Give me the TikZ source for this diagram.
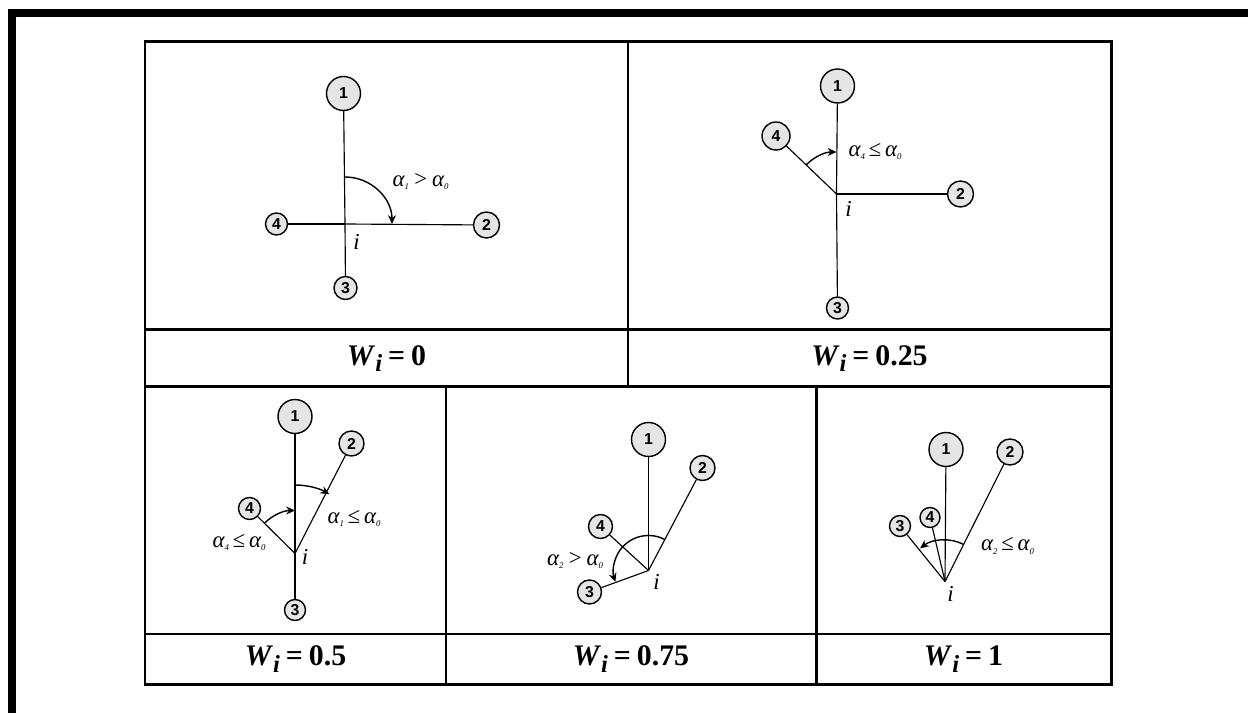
\documentclass[tikz,border=0pt]{standalone}
\usepackage{fontspec}
\setmainfont{Liberation Serif}
\newfontfamily\numfont{Liberation Sans}
\usetikzlibrary{arrows.meta,calc}
\usepackage{tkz-euclide}
\definecolor{NodeClr}{rgb}{0.9,0.9,0.9}

\tikzset{
  vtx/.style={circle,draw=black,line width=0.8pt,fill=NodeClr,inner sep=0pt,
    font=\numfont\bfseries\fontsize{9}{10}\selectfont},
  spoke/.style={line width=0.65pt},
  turn/.style={line width=0.8pt,-{Stealth[length=5pt,width=4.5pt]}},
  ang/.style={font=\itshape\fontsize{13}{14}\selectfont,inner sep=0pt},
  wlab/.style={font=\bfseries\fontsize{17}{19}\selectfont,inner sep=0pt},
  grid/.style={line width=1.7pt},
}
\newcommand{\Wlab}[1]{\textit{W}\raisebox{-0.5ex}{\textit{\fontsize{14}{14}\selectfont i}}\kern0.2em=\kern0.2em#1}
\newcommand{\alab}[3]{α\raisebox{-0.3ex}{\fontsize{5}{5}\selectfont #1}\,#2\,α\raisebox{-0.3ex}{\fontsize{5}{5}\selectfont #3}}

\begin{document}
\begin{tikzpicture}
\useasboundingbox (0,0) rectangle (24.96,14.26);

% outer frame
\draw[line width=0.16cm] (0.24,0) -- (0.24,14.0) -- (24.96,14.0);

% table
\draw[grid] (2.9,0.57) rectangle (22.22,13.43);
\draw[grid] (2.9,7.66) -- (22.22,7.66);
\draw[grid] (2.9,6.52) -- (22.22,6.52);
\draw[grid] (2.9,1.58) -- (22.22,1.58);
\draw[grid] (12.56,13.43) -- (12.56,6.52);
\draw[grid] (8.92,6.52) -- (8.92,0.57);
\draw[grid] (16.32,6.52) -- (16.32,0.57);

\node[wlab] (w1) at (7.73,7.09) {\Wlab{0}};
\node[wlab] (w2) at (17.39,7.09) {\Wlab{0.25}};
\node[wlab] (w3) at (5.91,1.075) {\Wlab{0.5}};
\node[wlab] (w4) at (12.62,1.075) {\Wlab{0.75}};
\node[wlab] (w5) at (19.27,1.075) {\Wlab{1}};

\tkzDefPoints{6.90/9.78/I1,16.73/10.38/I2,5.90/3.19/I3,12.97/2.85/I4,18.90/2.63/I5}

% W = 0
\node[vtx,minimum size=0.68cm] (A1) at (6.87,12.39) {1};
\node[vtx,minimum size=0.52cm] (B1) at (9.73,9.76) {2};
\node[vtx,minimum size=0.46cm] (C1) at (6.91,8.50) {3};
\node[vtx,minimum size=0.44cm] (D1) at (5.53,9.78) {4};
\draw[spoke] (I1) -- (A1);
\draw[spoke] (I1) -- (B1);
\draw[spoke] (I1) -- (C1);
\draw[spoke] (I1) -- (D1);
\draw[turn] ($(I1)+(90:0.94)$) arc[start angle=90,end angle=0,radius=0.94];
\node[ang] (i1) at (7.13,9.43) {i};
\node[ang] (t1) at (8.41,10.63) {\alab{1}{>}{0}};

% W = 0.25
\node[vtx,minimum size=0.68cm] (A2) at (16.75,12.54) {1};
\node[vtx,minimum size=0.52cm] (B2) at (19.21,10.38) {2};
\node[vtx,minimum size=0.44cm] (C2) at (16.75,8.10) {3};
\node[vtx,minimum size=0.56cm] (D2) at (15.52,11.54) {4};
\draw[spoke] (I2) -- (A2);
\draw[spoke] (I2) -- (B2);
\draw[spoke] (I2) -- (C2);
\draw[spoke] (I2) -- (D2);
\draw[turn] ($(I2)+(136:0.84)$) arc[start angle=136,end angle=90,radius=0.84];
\node[ang] (i2) at (16.97,10.09) {i};
\node[ang] (t2) at (17.50,11.23) {\alab{4}{≤}{0}};

% W = 0.5
\node[vtx,minimum size=0.68cm] (A3) at (5.90,5.93) {1};
\node[vtx,minimum size=0.50cm] (B3) at (7.03,5.39) {2};
\node[vtx,minimum size=0.42cm] (C3) at (5.90,2.06) {3};
\node[vtx,minimum size=0.44cm] (D3) at (4.99,4.09) {4};
\draw[spoke] (I3) -- (A3);
\draw[spoke] (I3) -- (B3);
\draw[spoke] (I3) -- (C3);
\draw[spoke] (I3) -- (D3);
\draw[turn] ($(I3)+(90:1.37)$) arc[start angle=90,end angle=60,radius=1.37];
\draw[turn] ($(I3)+(135:0.86)$) arc[start angle=135,end angle=90,radius=0.86];
\node[ang] (i3) at (6.10,3.13) {i};
\node[ang] (t3) at (7.08,3.89) {\alab{1}{≤}{0}};
\node[ang] (t4) at (4.78,3.41) {\alab{4}{≤}{0}};

% W = 0.75
\node[vtx,minimum size=0.68cm] (A4) at (12.97,5.47) {1};
\node[vtx,minimum size=0.50cm] (B4) at (14.05,4.90) {2};
\node[vtx,minimum size=0.48cm] (C4) at (11.79,2.42) {3};
\node[vtx,minimum size=0.48cm] (D4) at (12.01,3.73) {4};
\draw[spoke] (I4) -- (A4);
\draw[spoke] (I4) -- (B4);
\draw[spoke] (I4) -- (C4);
\draw[spoke] (I4) -- (D4);
\draw[turn] ($(I4)+(62:0.70)$) arc[start angle=62,end angle=199,radius=0.70];
\node[ang] (i4) at (13.13,2.63) {i};
\node[ang] (t5) at (11.50,3.05) {\alab{2}{>}{0}};

% W = 1
\node[vtx,minimum size=0.68cm] (A5) at (18.92,5.27) {1};
\node[vtx,minimum size=0.52cm] (B5) at (20.20,5.22) {2};
\node[vtx,minimum size=0.42cm] (C5) at (18.00,3.74) {3};
\node[vtx,minimum size=0.40cm] (D5) at (18.60,3.91) {4};
\draw[spoke] (I5) -- (A5);
\draw[spoke] (I5) -- (B5);
\draw[spoke] (I5) -- (C5);
\draw[spoke] (I5) -- (D5);
\draw[turn] ($(I5)+(64:0.83)$) arc[start angle=64,end angle=127,radius=0.83];
\node[ang] (i5) at (19.01,2.39) {i};
\node[ang] (t6) at (20.15,3.34) {\alab{2}{≤}{0}};

\end{tikzpicture}
\end{document}
